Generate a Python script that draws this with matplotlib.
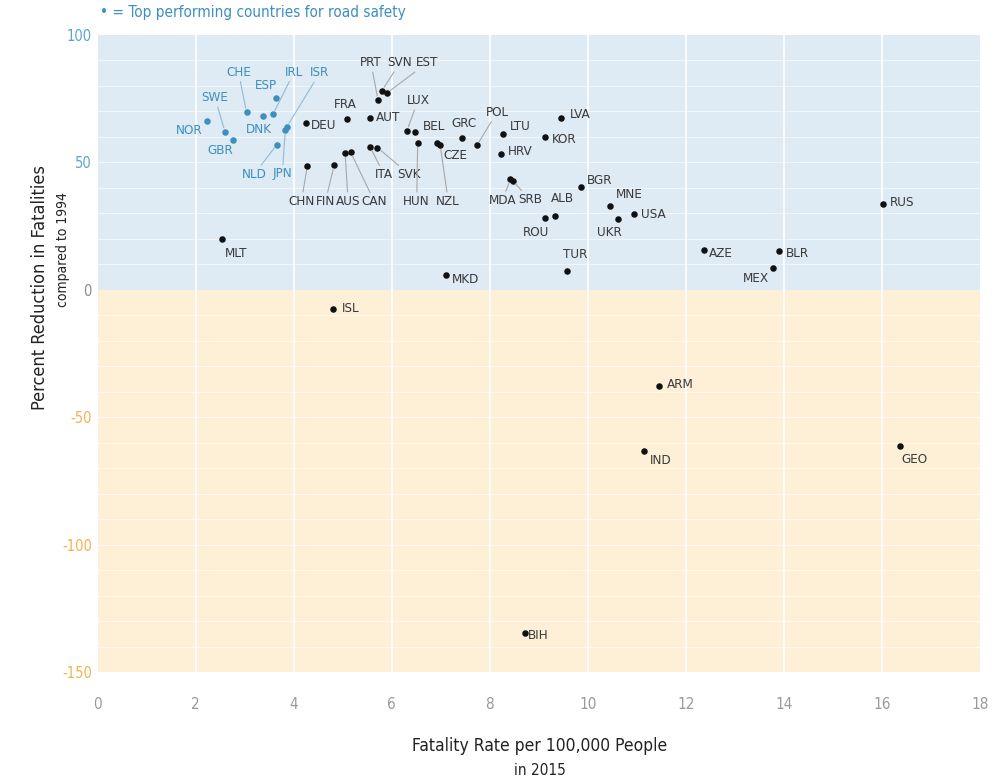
import matplotlib
matplotlib.use("Agg")
import matplotlib.pyplot as plt
from matplotlib import font_manager

# procura uma fonte estreita instalada
fontes = font_manager.fontManager.ttflist
estreitas = [f for f in fontes
             if f.stretch in ("condensed", "semi-condensed", "extra-condensed")
             or "Condensed" in f.name or "Narrow" in f.name]
if estreitas:
    FONTE = estreitas[0].name
    ESTICA = estreitas[0].stretch
    TAM = 9.6
else:
    FONTE = "Roboto"
    ESTICA = "normal"
    TAM = 9
plt.rcParams["font.family"] = [FONTE, "DejaVu Sans"]
plt.rcParams["font.stretch"] = ESTICA

# Dados
paises = ["NOR", "SWE", "GBR", "CHE", "DNK", "IRL", "ESP", "ISR", "JPN", "NLD",
          "DEU", "CHN", "FIN", "AUS", "CAN", "FRA", "AUT", "PRT", "SVN", "EST",
          "ITA", "SVK", "LUX", "BEL", "HUN", "CZE", "NZL", "GRC", "POL", "LTU",
          "HRV", "KOR", "LVA", "MDA", "SRB", "BGR", "ROU", "ALB", "MNE", "UKR",
          "USA", "TUR", "MKD", "AZE", "BLR", "MEX", "RUS", "MLT", "ISL", "ARM",
          "IND", "GEO", "BIH"]
taxa = [2.23, 2.60, 2.76, 3.04, 3.38, 3.58, 3.64, 3.86, 3.83, 3.66,
        4.25, 4.28, 4.83, 5.05, 5.16, 5.09, 5.56, 5.72, 5.80, 5.91,
        5.56, 5.71, 6.31, 6.47, 6.53, 6.93, 6.99, 7.43, 7.74, 8.27,
        8.23, 9.12, 9.45, 8.42, 8.47, 9.86, 9.12, 9.34, 10.46, 10.61,
        10.95, 9.58, 7.11, 12.36, 13.89, 13.77, 16.02, 2.53, 4.81, 11.46,
        11.14, 16.36, 8.71]
reducao = [66.1, 61.9, 58.7, 69.5, 68.2, 68.8, 75.0, 63.8, 62.6, 56.9,
           65.2, 48.4, 49.0, 53.5, 54.0, 66.9, 67.4, 74.4, 78.0, 77.2,
           56.0, 55.7, 62.3, 61.9, 57.4, 57.4, 56.6, 59.6, 56.6, 60.9,
           53.2, 60.0, 67.4, 43.2, 42.7, 40.3, 28.2, 29.0, 32.9, 27.7,
           29.5, 7.5, 5.6, 15.5, 15.1, 8.3, 33.4, 19.8, -7.5, -37.9,
           -63.3, -61.3, -134.7]
top = ["NOR", "SWE", "GBR", "CHE", "DNK", "IRL", "ESP", "ISR", "JPN", "NLD"]

# deslocamento do rotulo em pixels (dx, dy para baixo) e se tem linha guia
rotulos = {
    "NOR": (-18, 9, 0), "SWE": (-10, -34, 1), "GBR": (-13, 11, 0),
    "CHE": (-8, -40, 1), "DNK": (-4, 14, 0), "IRL": (21, -42, 1),
    "ESP": (-10, -13, 0), "ISR": (33, -54, 1), "JPN": (-3, 44, 1),
    "NLD": (-23, 30, 1), "DEU": (18, 2, 0), "CHN": (-6, 35, 1),
    "FIN": (-9, 37, 1), "AUS": (3, 48, 1), "CAN": (24, 50, 1),
    "FRA": (-2, -15, 0), "AUT": (18, 0, 0), "PRT": (-7, -37, 1),
    "SVN": (18, -28, 1), "EST": (40, -30, 1), "ITA": (14, 28, 1),
    "SVK": (32, 27, 1), "LUX": (11, -30, 1), "BEL": (19, -5, 0),
    "HUN": (-1, 58, 1), "CZE": (18, 12, 0), "NZL": (8, 56, 1),
    "GRC": (2, -14, 0), "POL": (20, -33, 1), "LTU": (17, -8, 0),
    "HRV": (19, -2, 0), "KOR": (20, 3, 0), "LVA": (19, -3, 0),
    "MDA": (-8, 21, 1), "SRB": (17, 19, 1), "BGR": (19, -6, 0),
    "ROU": (-9, 15, 0), "ALB": (7, -17, 0), "MNE": (19, -11, 0),
    "UKR": (-8, 14, 0), "USA": (19, 0, 0), "TUR": (8, -16, 0),
    "MKD": (19, 4, 0), "AZE": (17, 3, 0), "BLR": (19, 2, 0),
    "MEX": (-17, 10, 0), "RUS": (19, -2, 0), "MLT": (15, 14, 0),
    "ISL": (17, 0, 0), "ARM": (21, -2, 0), "IND": (17, 9, 0),
    "GEO": (15, 14, 0), "BIH": (14, 2, 0),
}

AZUL = "#3d8fbd"
AZUL_FUNDO = "#deeaf4"
LARANJA_FUNDO = "#fdf0d7"
PRETO = "#3a3a3a"

fig = plt.figure(figsize=(9.96, 7.81), dpi=100)
ax = fig.add_axes([0.0979, 0.1393, 0.8861, 0.8164])
ax.set_xlim(0, 18)
ax.set_ylim(-150, 100)

ax.axhspan(0, 100, color=AZUL_FUNDO, lw=0, zorder=0)
ax.axhspan(-150, 0, color=LARANJA_FUNDO, lw=0, zorder=0)
for yy in range(-140, 100, 10):
    if yy != 0:
        ax.axhline(yy, color="white", lw=0.7, alpha=0.6, zorder=1)
for xx in range(2, 18, 2):
    ax.axvline(xx, color="white", lw=1.2, zorder=1)

for s in ax.spines.values():
    s.set_visible(False)
ax.tick_params(length=0)

ax.set_xticks(range(0, 19, 2))
ax.set_xticklabels([str(v) for v in range(0, 19, 2)], color="#9a9a9a", fontsize=11)
ax.tick_params(axis="x", pad=18)
yt = [100, 50, 0, -50, -100, -150]
ax.set_yticks(yt)
ax.set_yticklabels([str(v) for v in yt], fontsize=10.5)
cores_y = ["#5aa6cc", "#5aa6cc", "#8a8a8a", "#f0b24e", "#f0b24e", "#f0b24e"]
for lab, c in zip(ax.get_yticklabels(), cores_y):
    lab.set_color(c)
ax.tick_params(axis="y", pad=4)

for p, x, y in zip(paises, taxa, reducao):
    eh_top = p in top
    cor = AZUL if eh_top else "#111111"
    cor_txt = AZUL if eh_top else PRETO
    ax.scatter(x, y, s=22, color=cor, zorder=4, linewidths=0)
    dx, dy, guia = rotulos[p]
    props = None
    if guia:
        props = dict(arrowstyle="-", color="#8fbbd6" if eh_top else "#a8a8a8",
                     lw=0.8, shrinkA=0, shrinkB=3)
    ax.annotate(p, (x, y), xytext=(dx, -dy), textcoords="offset pixels",
                ha="center", va="center", fontsize=TAM, color=cor_txt,
                arrowprops=props, zorder=5)

fig.text(0.1, 0.984, "\u2022 = Top performing countries for road safety",
         color=AZUL, fontsize=11, ha="left", va="center")
fig.text(0.04, 0.632, "Percent Reduction in Fatalities", rotation=90,
         fontsize=13, color="#222222", ha="center", va="center")
fig.text(0.063, 0.68, "compared to 1994", rotation=90,
         fontsize=10, color="#222222", ha="center", va="center")
fig.text(0.542, 0.045, "Fatality Rate per 100,000 People",
         fontsize=12.5, color="#222222", ha="center", va="center")
fig.text(0.542, 0.014, "in 2015",
         fontsize=11, color="#222222", ha="center", va="center")

fig.savefig("out.png", dpi=100, facecolor="white")
